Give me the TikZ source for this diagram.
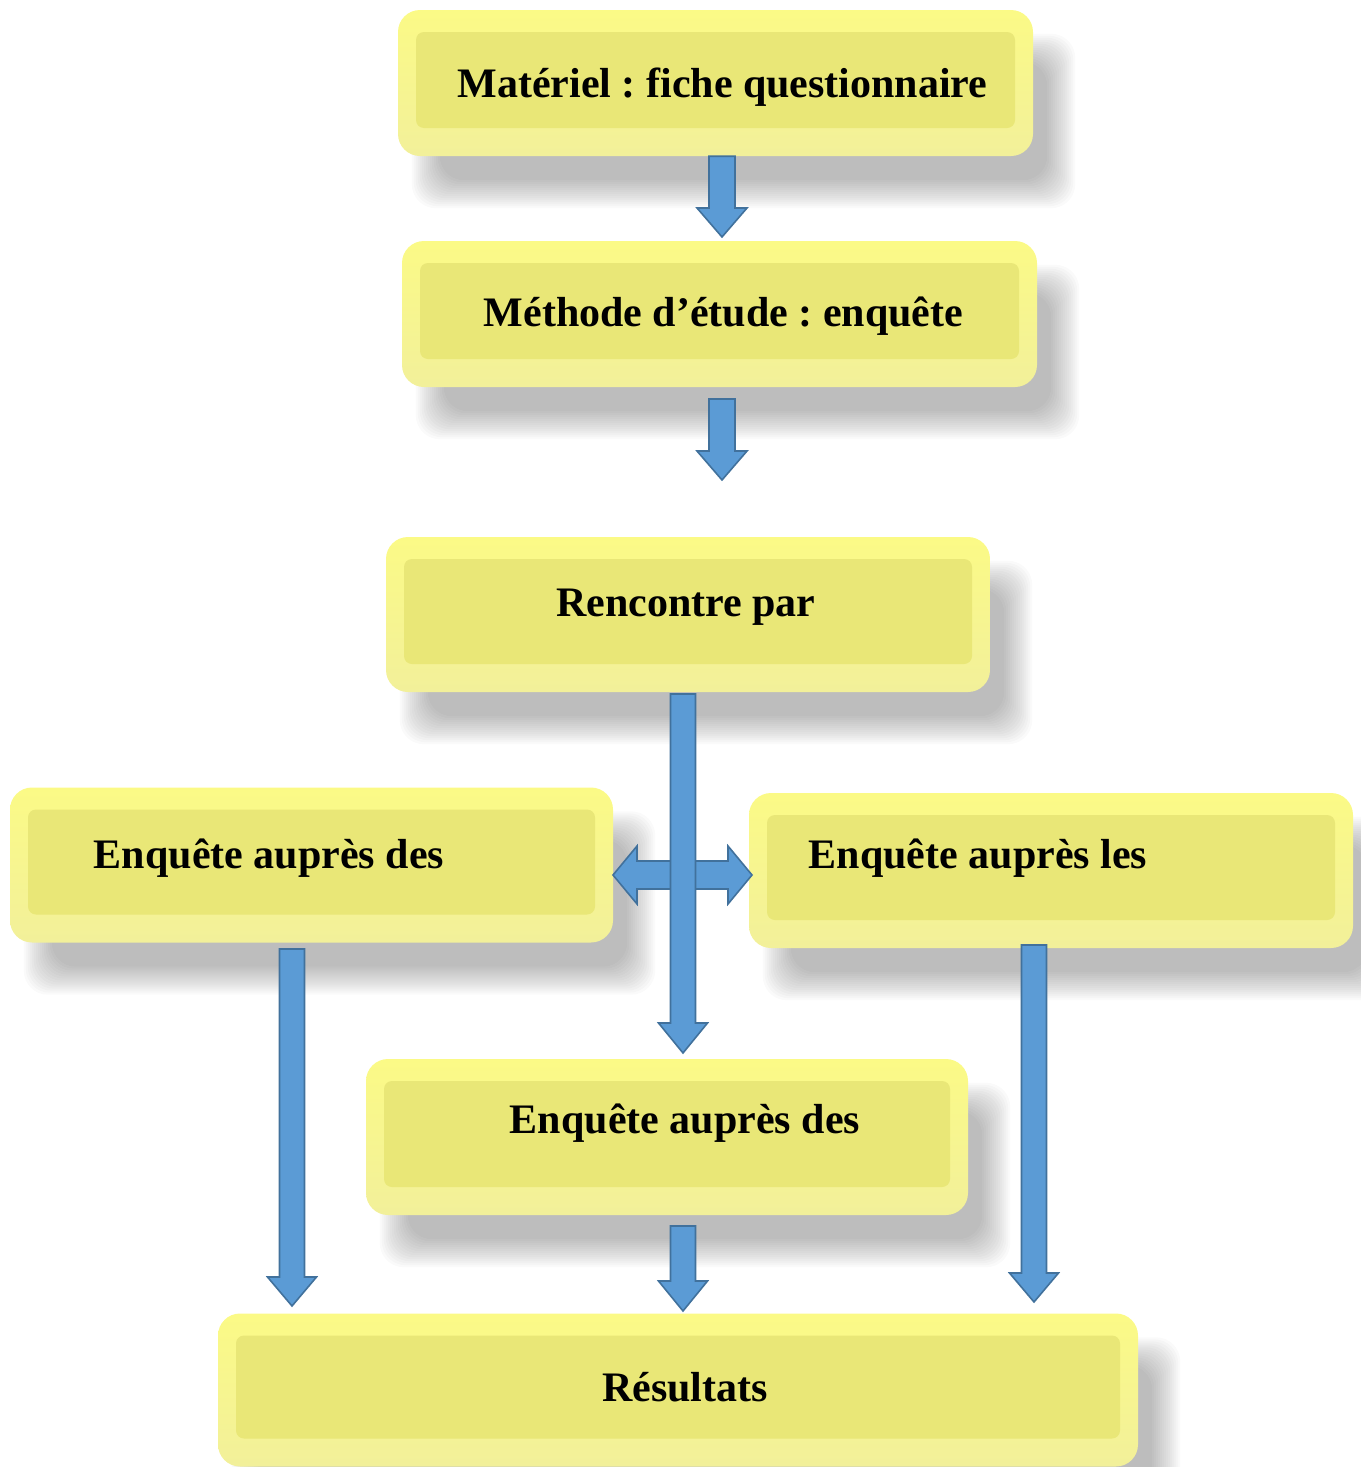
\documentclass[tikz,border=0pt]{standalone}
\usepackage{fontspec}
\setmainfont{Liberation Serif}
\usetikzlibrary{calc,backgrounds}
\definecolor{rimtop}{HTML}{FBFA86}
\definecolor{rimbot}{HTML}{F2F09A}
\definecolor{panelcol}{HTML}{E9E777}
\definecolor{arrowfill}{HTML}{5B9BD5}
\definecolor{arrowline}{HTML}{41719C}
\frenchspacing
\tikzset{
  box/.style={rounded corners=22pt, top color=rimtop, bottom color=rimbot, draw=none, inner sep=0pt,
    path picture={\fill[panelcol, rounded corners=8pt]
      ([xshift=18pt,yshift=28pt]path picture bounding box.south west) rectangle
      ([xshift=-18pt,yshift=-22pt]path picture bounding box.north east);}},
  boxtext/.style={font=\fontsize{42}{48}\selectfont\bfseries, anchor=base, inner sep=0pt},
  barrow/.style={fill=arrowfill, draw=arrowline, line width=1.6pt, line join=miter},
}
\newcommand\softshadow[1]{%
  \foreach \s in {-14,-12,...,14}{%
    \fill[black, opacity=0.02, rounded corners=24pt]
      ($(#1.south west)+(28pt-\s pt,-38pt-\s pt)$) rectangle
      ($(#1.north east)+(28pt+\s pt,-38pt+\s pt)$);}}
\newcommand\blockdown[5]{%
  \draw[barrow] let \p1=(#1), \p2=(#2) in
    (\x1-#3,\y1) -- (\x1+#3,\y1) -- (\x1+#3,\y2+#5) -- (\x1+#4,\y2+#5) -- (\x1,\y2)
    -- (\x1-#4,\y2+#5) -- (\x1-#3,\y2+#5) -- cycle;}
\newcommand\blockleftright[5]{%
  \draw[barrow] let \p1=(#1), \p2=(#2) in
    (\x1,\y1) -- (\x1+#5,\y1+#4) -- (\x1+#5,\y1+#3) -- (\x2-#5,\y1+#3) -- (\x2-#5,\y1+#4)
    -- (\x2,\y1) -- (\x2-#5,\y1-#4) -- (\x2-#5,\y1-#3) -- (\x1+#5,\y1-#3) -- (\x1+#5,\y1-#4) -- cycle;}
\begin{document}
\begin{tikzpicture}[x=1pt,y=-1pt]
\useasboundingbox (0,0) rectangle (1360,1467);
% boxes
\node[box, minimum width=635pt, minimum height=146pt] (b1) at (715.5,83) {};
\node[box, minimum width=635pt, minimum height=146pt] (b2) at (719.5,314) {};
\node[box, minimum width=604pt, minimum height=155pt] (b3) at (688,614.5) {};
\node[box, minimum width=603pt, minimum height=155pt] (b4) at (311.5,865) {};
\node[box, minimum width=604pt, minimum height=155pt] (b5) at (1051,870.5) {};
\node[box, minimum width=602pt, minimum height=156pt] (b6) at (667,1137) {};
\node[box, minimum width=920pt, minimum height=153pt] (b7) at (678,1390) {};
% shadows
\begin{pgfonlayer}{background}
\softshadow{b1}\softshadow{b2}\softshadow{b3}\softshadow{b4}\softshadow{b5}\softshadow{b6}\softshadow{b7}
\end{pgfonlayer}
% texts
\node[boxtext] (t1) at (722.5,97) {Matériel : fiche questionnaire};
\node[boxtext] (t2) at (723.5,326) {Méthode d’étude : enquête};
\node[boxtext] (t3) at (686,616) {Rencontre par};
\node[boxtext] (t4) at (269,868) {Enquête auprès des};
\node[boxtext] (t5) at (978,868) {Enquête auprès les};
\node[boxtext] (t6) at (685,1133) {Enquête auprès des};
\node[boxtext] (t7) at (685,1401) {Résultats};
% arrow end points
\coordinate (a1s) at (b1.south -| 722,0);
\coordinate (a1e) at (722,237);
\coordinate (a2s) at (722,399);
\coordinate (a2e) at (722,480);
\coordinate (a3s) at (683,694);
\coordinate (a3e) at (683,1053);
\coordinate (hl) at (613,875);
\coordinate (hr) at (752,875);
\coordinate (a4s) at (292,949);
\coordinate (a4e) at (292,1306);
\coordinate (a5s) at (683,1226);
\coordinate (a5e) at (683,1311);
\coordinate (a6s) at (1034,945);
\coordinate (a6e) at (1034,1302);
% arrows
\blockdown{a1s}{a1e}{13pt}{25pt}{29pt}
\blockdown{a2s}{a2e}{13pt}{25pt}{29pt}
\blockleftright{hl}{hr}{14pt}{29pt}{24pt}
\blockdown{a3s}{a3e}{12.5pt}{24.5pt}{30pt}
\blockdown{a4s}{a4e}{12.5pt}{24.5pt}{29pt}
\blockdown{a5s}{a5e}{12.5pt}{24.5pt}{30pt}
\blockdown{a6s}{a6e}{12.5pt}{24.5pt}{29pt}
\end{tikzpicture}
\end{document}
